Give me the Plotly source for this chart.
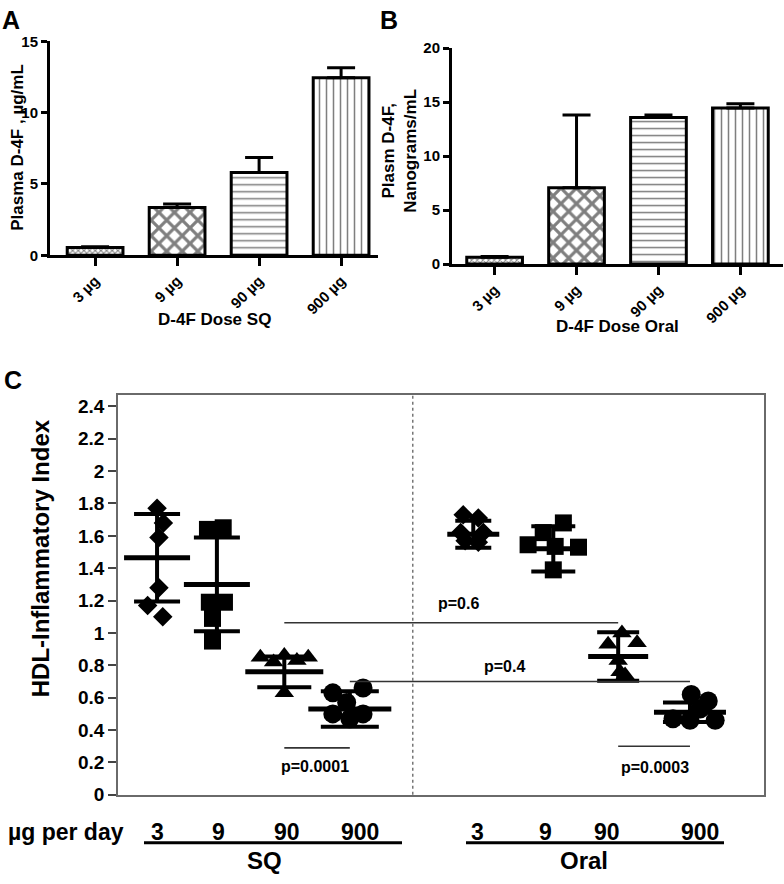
import plotly.graph_objects as go

W, H = 784, 884
FONT = "Liberation Sans, Arial, sans-serif"


def px(x):
    return x / W


def py(y):
    return 1 - y / H


# ---------------- data: panels A and B ----------------
dose_labels = ["3 µg", "9 µg", "90 µg", "900 µg"]
sq_plasma = [0.55, 3.35, 5.8, 12.45]          # µg/mL
sq_plasma_err = [0.05, 0.25, 1.05, 0.7]
oral_plasma = [0.63, 7.06, 13.57, 14.45]      # ng/mL
oral_plasma_err = [0.07, 6.74, 0.23, 0.4]

# ---------------- data: panel C ----------------
group_names = ["SQ 3", "SQ 9", "SQ 90", "SQ 900", "Oral 3", "Oral 9", "Oral 90", "Oral 900"]
dose_ticks = ["3", "9", "90", "900", "3", "9", "90", "900"]
sq3 = [1.77, 1.68, 1.59, 1.28, 1.17, 1.10]
sq9 = [1.64, 1.65, 1.19, 1.19, 1.09, 0.95]
sq90 = [0.85, 0.82, 0.86, 0.83, 0.85, 0.63]
sq900 = [0.63, 0.66, 0.57, 0.50, 0.50, 0.47]
oral3 = [1.73, 1.71, 1.62, 1.62, 1.57, 1.56]
oral9 = [1.68, 1.62, 1.545, 1.535, 1.53, 1.39]
oral90 = [1.00, 0.93, 0.94, 0.83, 0.76, 0.74]
oral900 = [0.62, 0.58, 0.47, 0.46, 0.46, 0.53]
group_values = [sq3, sq9, sq90, sq900, oral3, oral9, oral90, oral900]
group_means = [1.465, 1.30, 0.76, 0.53, 1.61, 1.52, 0.855, 0.51]
group_sds = [0.27, 0.29, 0.095, 0.11, 0.083, 0.14, 0.15, 0.06]
# horizontal jitter of individual points (axis units)
sq3_off = [0.0, 0.1, 0.03, 0.03, -0.15, 0.09]
sq9_off = [-0.15, 0.1, -0.12, 0.12, -0.07, -0.07]
sq90_off = [-0.38, -0.17, 0.0, 0.2, 0.38, 0.0]
sq900_off = [-0.27, 0.21, -0.05, -0.27, 0.21, 0.0]
oral3_off = [-0.16, 0.08, -0.2, 0.16, -0.13, 0.08]
oral9_off = [0.16, -0.16, -0.4, 0.03, 0.4, 0.0]
oral90_off = [0.06, -0.16, 0.3, 0.0, 0.03, 0.11]
oral900_off = [0.02, 0.29, -0.27, 0.0, 0.4, 0.16]
group_offsets = [sq3_off, sq9_off, sq90_off, sq900_off, oral3_off, oral9_off, oral90_off, oral900_off]

p_labels = ["p=0.6", "p=0.4", "p=0.0001", "p=0.0003"]
p_pairs = [(2, 6), (3, 7), (2, 3), (6, 7)]
p_line_y = [1.063, 0.70, 0.29, 0.30]

y_tickvals = [0, 0.2, 0.4, 0.6, 0.8, 1.0, 1.2, 1.4, 1.6, 1.8, 2.0, 2.2, 2.4]
y_ticktext = ["0", "0.2", "0.4", "0.6", "0.8", "1", "1.2", "1.4", "1.6", "1.8", "2", "2.2", "2.4"]

# ---------------- layout / style ----------------
group_pos = [1.0, 1.95, 3.02, 4.06, 6.02, 7.29, 8.32, 9.46]
bottom_label_px = [157, 218, 287, 360, 477, 545, 607, 700]
group_symbols = ["diamond", "square", "triangle-up", "circle"] * 2
symbol_sizes = [15, 17, 17, 19] * 2
mean_len_px = [66, 66, 78, 83, 52, 60, 60, 72]
cap_half_px = [23, 23, 27, 29, 18, 22, 21, 27]
pattern_shapes = ["x", "x", "-", "|"]
pattern_sizes = [4, 11, 7, 7]
pattern_solid = [0.45, 0.5, 0.22, 0.22]

fig = go.Figure()

bold = dict(family=FONT, color="black", weight="bold")

for xa, ya, vals, errs in [("x", "y", sq_plasma, sq_plasma_err),
                           ("x2", "y2", oral_plasma, oral_plasma_err)]:
    fig.add_trace(go.Bar(
        x=dose_labels, y=vals, width=0.68,
        marker=dict(color="white", line=dict(color="black", width=3),
                    pattern=dict(shape=pattern_shapes, size=pattern_sizes, solidity=pattern_solid,
                                 fgcolor="black", bgcolor="white", fillmode="overlay")),
        error_y=dict(type="data", symmetric=False, array=errs, arrayminus=[0] * 4,
                     color="black", thickness=3, width=14),
        xaxis=xa, yaxis=ya, showlegend=False,
    ))

# Panel C points
for i, vals in enumerate(group_values):
    xs = [group_pos[i] + o for o in group_offsets[i]]
    fig.add_trace(go.Scatter(
        x=xs, y=vals, mode="markers", name=group_names[i],
        marker=dict(symbol=group_symbols[i], size=symbol_sizes[i], color="black", line=dict(width=0)),
        xaxis="x3", yaxis="y3", showlegend=False, cliponaxis=False,
    ))
# Panel C mean ± SD
for i in range(len(group_values)):
    fig.add_trace(go.Scatter(
        x=[group_pos[i]], y=[group_means[i]], mode="markers",
        marker=dict(symbol="line-ew", size=mean_len_px[i] / 1.4, color="black",
                    line=dict(width=5, color="black")),
        error_y=dict(type="data", array=[group_sds[i]], color="black", thickness=4,
                     width=cap_half_px[i]),
        xaxis="x3", yaxis="y3", showlegend=False, cliponaxis=False,
    ))

axis_common = dict(showline=True, linecolor="black", showgrid=False, zeroline=False,
                   ticks="outside", tickcolor="black")

fig.update_layout(
    width=W, height=H, margin=dict(l=0, r=0, t=0, b=0),
    paper_bgcolor="white", plot_bgcolor="white", showlegend=False,
    font=dict(family=FONT, color="black"),
    xaxis=dict(domain=[px(50), px(378)], anchor="y", range=[-0.55, 3.45], linewidth=3,
               ticklen=8, tickwidth=2.5, tickangle=-45, tickfont=dict(size=15, **bold),
               **axis_common),
    yaxis=dict(domain=[py(252), py(33)], anchor="x", range=[0, 15], dtick=5, linewidth=3,
               ticklen=6, tickwidth=2.5, tickfont=dict(size=15, **bold), **axis_common),
    xaxis2=dict(domain=[px(452), px(783)], anchor="y2", range=[-0.52, 3.52], linewidth=3,
                ticklen=8, tickwidth=2.5, tickangle=-45, tickfont=dict(size=15, **bold),
                **axis_common),
    yaxis2=dict(domain=[py(261), py(40)], anchor="x2", range=[0, 20], dtick=5, linewidth=3,
                ticklen=6, tickwidth=2.5, tickfont=dict(size=15, **bold), **axis_common),
    xaxis3=dict(domain=[px(118), px(764)], anchor="y3", range=[0.38, 10.635], showline=True,
                mirror=True, linecolor="#6a6a6a", linewidth=1.5, showticklabels=False,
                ticks="", showgrid=False, zeroline=False),
    yaxis3=dict(domain=[py(804), py(395)], anchor="x3", range=[0, 2.47], showline=True,
                mirror=True, linecolor="#6a6a6a", linewidth=1.5, tickvals=y_tickvals,
                ticktext=y_ticktext, ticks="outside", ticklen=8, tickwidth=1.5,
                tickcolor="#444", tickfont=dict(size=19, **bold), showgrid=False,
                zeroline=False),
)

shapes = []
shapes.append(dict(type="line", xref="x3", yref="y3 domain", x0=5.06, x1=5.06, y0=0, y1=1,
                   line=dict(color="#555", width=1.2, dash="dot")))
for (a, b), yv in zip(p_pairs, p_line_y):
    shapes.append(dict(type="line", xref="x3", yref="y3", x0=group_pos[a], x1=group_pos[b],
                       y0=yv, y1=yv, line=dict(color="#333", width=1.6)))
shapes.append(dict(type="line", xref="paper", yref="paper", x0=px(144), x1=px(402),
                   y0=py(853), y1=py(853), line=dict(color="black", width=3)))
shapes.append(dict(type="line", xref="paper", yref="paper", x0=px(466), x1=px(724),
                   y0=py(853), y1=py(853), line=dict(color="black", width=3)))
fig.update_layout(shapes=shapes)

ann = []


def text(x, y, s, size, xref="paper", yref="paper", angle=0):
    ann.append(dict(x=x, y=y, xref=xref, yref=yref, text=s, showarrow=False, textangle=angle,
                    xanchor="center", yanchor="middle",
                    font=dict(size=size, family=FONT, color="black", weight="bold")))


text(px(11), py(11), "A", 25)
text(px(389), py(11), "B", 25)
text(px(13), py(380), "C", 25)
text(px(18), py(142), "Plasma D-4F , µg/mL", 17, angle=-90)
text(px(400), py(145), "Plasm D-4F,<br>Nanograms/mL", 17, angle=-90)
text(px(214), py(318), "D-4F Dose SQ", 17)
text(px(617), py(325), "D-4F Dose Oral", 17)
text(px(40), py(562), "HDL-Inflammatory Index", 24, angle=-90)

p_label_x = [5.78, 6.51, 3.5, 8.9]
p_label_y = [1.18, 0.79, 0.175, 0.17]
for s, xv, yv in zip(p_labels, p_label_x, p_label_y):
    text(xv, yv, s, 16, xref="x3", yref="y3")

text(px(66), py(842), "µg per day", 23)
for s, xp in zip(dose_ticks, bottom_label_px):
    text(px(xp), py(842), s, 23)
text(px(264), py(871), "SQ", 24)
text(px(584), py(871), "Oral", 24)

fig.update_layout(annotations=ann)

fig.write_html("out.html", config={"displayModeBar": False},
               post_script="document.body.style.margin='0';")
